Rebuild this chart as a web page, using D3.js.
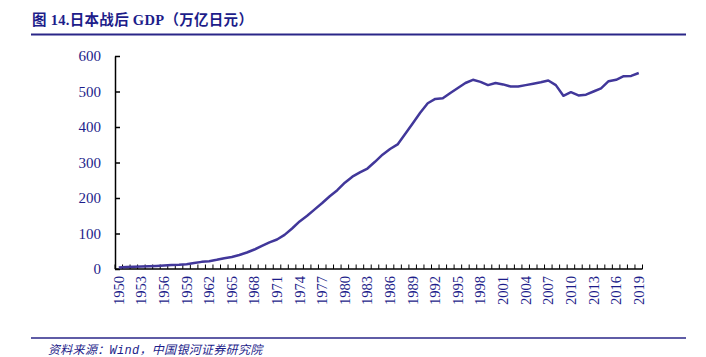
<!DOCTYPE html>
<html><head><meta charset="utf-8">
<script src="https://cdn.jsdelivr.net/npm/d3@7/dist/d3.min.js"></script>
<style>
body{margin:0;background:#fff;}
svg{display:block;}
</style></head>
<body><svg id="c" width="706" height="357"></svg>
<script>
const years = d3.range(1950, 2020);
const gdp = [4, 5.4, 6.2, 7.2, 7.8, 8.6, 9.6, 11, 11.7, 13.4,
  16.7, 20.1, 22.1, 25.9, 30.3, 33.8, 39.5, 46.4, 54.9, 65.1,
  75, 83, 96, 114, 134, 150, 168, 186, 205, 222,
  243, 260, 272, 283, 302, 322, 338, 351, 380, 410,
  440, 467, 479, 481, 496, 510, 524, 533, 527, 518,
  524, 520, 514, 514, 518, 522, 526, 531, 518, 488,
  498, 489, 491, 500, 509, 529, 533, 543, 544, 552];
const yTicks = [0, 100, 200, 300, 400, 500, 600];
const titleText = "图 14.日本战后 GDP（万亿日元）";
const sourceText = "资料来源：Wind，中国银河证券研究院";

(function () {
const svg = d3.select("#c");
const navy = "#1d1d8a";
const pL = 115, pR = 642.5, pT = 56, pB = 269;

const x = d3.scaleBand().domain(years).range([pL, pR]);
const y = d3.scaleLinear().domain([0, 600]).range([pB, pT]);

// title
svg.append("text").attr("x", 32).attr("y", 25)
  .attr("font-family", "'Liberation Serif', 'Noto Sans CJK SC', serif").attr("font-weight", "bold")
  .attr("font-size", 14.5).attr("letter-spacing", 0.3).attr("fill", navy).text(titleText);
svg.append("line").attr("x1", 31).attr("x2", 686).attr("y1", 34.5).attr("y2", 34.5)
  .attr("stroke", "#2a2688").attr("stroke-width", 2);

// y axis
const ya = svg.append("g").attr("transform", `translate(${pL},0)`)
  .call(d3.axisLeft(y).tickValues(yTicks).tickSizeInner(-5).tickSizeOuter(0).tickPadding(14));
ya.select(".domain").attr("stroke", "#000").attr("stroke-width", 1.5);
ya.selectAll(".tick line").attr("stroke", "#000").attr("stroke-width", 1.5);
ya.selectAll("text").attr("font-family", "'Liberation Serif', serif").attr("font-size", 15)
  .attr("fill", navy);

// x axis ticks (between categories)
const xa = svg.append("g").attr("transform", `translate(0,${pB})`);
xa.append("line").attr("x1", pL).attr("x2", pR).attr("stroke", "#000").attr("stroke-width", 1.5);
xa.selectAll("line.tk").data(years.concat([2020])).join("line").attr("class", "tk")
  .attr("x1", d => d === 2020 ? pR : x(d)).attr("x2", d => d === 2020 ? pR : x(d))
  .attr("y1", 0).attr("y2", -4.5).attr("stroke", "#000").attr("stroke-width", 1);
xa.selectAll("text").data(years.filter(d => (d - 1950) % 3 === 0)).join("text")
  .attr("transform", d => `translate(${x(d) + x.bandwidth() / 2 + 5},7) rotate(-90)`)
  .attr("text-anchor", "end")
  .attr("font-family", "'Liberation Serif', serif").attr("font-size", 14.5).attr("fill", navy)
  .text(d => d);

// line
const line = d3.line().x((d, i) => x(years[i]) + x.bandwidth() / 2).y(d => y(d));
svg.append("path").datum(gdp).attr("d", line).attr("fill", "none")
  .attr("stroke", "#41379a").attr("stroke-width", 2.5).attr("stroke-linejoin", "round");

// footer
svg.append("line").attr("x1", 31).attr("x2", 686).attr("y1", 338).attr("y2", 338)
  .attr("stroke", "#2a2688").attr("stroke-width", 1.5);
svg.append("text").attr("x", 48).attr("y", 354)
  .attr("font-family", "'Liberation Mono', 'Noto Sans CJK SC', monospace").attr("font-style", "italic")
  .attr("font-size", 12).attr("letter-spacing", 0.3).attr("fill", navy).text(sourceText);
})();
</script></body></html>
